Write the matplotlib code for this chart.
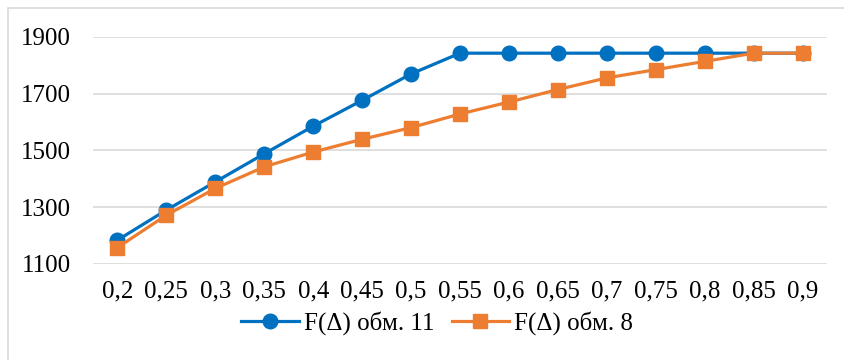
import matplotlib
matplotlib.use("Agg")
import matplotlib.pyplot as plt
from matplotlib.patches import Rectangle

categories = ["0,2", "0,25", "0,3", "0,35", "0,4", "0,45", "0,5", "0,55",
              "0,6", "0,65", "0,7", "0,75", "0,8", "0,85", "0,9"]
series_11 = [1184, 1290, 1389, 1488, 1585, 1676, 1769, 1842,
             1842, 1842, 1842, 1842, 1842, 1842, 1842]
series_8 = [1158, 1272, 1366, 1442, 1494, 1539, 1580, 1628,
            1670, 1714, 1755, 1784, 1813, 1842, 1842]
y_ticks = [1100, 1300, 1500, 1700, 1900]
label_11 = "F(Δ) обм. 11"
label_8 = "F(Δ) обм. 8"

plt.rcParams['font.family'] = ['Liberation Serif', 'DejaVu Serif']

fig = plt.figure(figsize=(8.45, 3.6), dpi=100)
fig.patches.append(Rectangle((8.5/845, -0.05), 1.1, 1.05 - 8.5/360,
                             transform=fig.transFigure, fill=False,
                             edgecolor='#D9D9D9', linewidth=1.2))
ax = fig.add_axes([93/845, 1 - 264/360, (827-93)/845, (264-36.7)/360])

x = list(range(len(categories)))
ax.plot(x, series_11, color='#0070C0', linewidth=2.3, marker='o',
        markersize=10.5, label=label_11, zorder=3)
ax.plot(x, series_8, color='#ED7D31', linewidth=2.3, marker='s',
        markersize=10, label=label_8, zorder=4)

ax.set_xlim(-0.5, len(categories) - 0.5)
ax.set_ylim(1100, 1900)
ax.set_yticks(y_ticks)
ax.set_xticks(x)
ax.set_xticklabels(categories)
ax.grid(axis='y', color='#D9D9D9', linewidth=1.2)
ax.set_axisbelow(True)
for s in ax.spines.values():
    s.set_visible(False)
ax.tick_params(axis='both', length=0, labelsize=18, colors='black')
ax.tick_params(axis='y', pad=16)
ax.tick_params(axis='x', pad=12)

leg = fig.legend(loc='center', bbox_to_anchor=(437/845, 1 - 323/360), ncol=2,
                 frameon=False, fontsize=18, handlelength=2.3,
                 handletextpad=0.2, columnspacing=0.7, borderpad=0)

fig.savefig("out.png", dpi=100)
